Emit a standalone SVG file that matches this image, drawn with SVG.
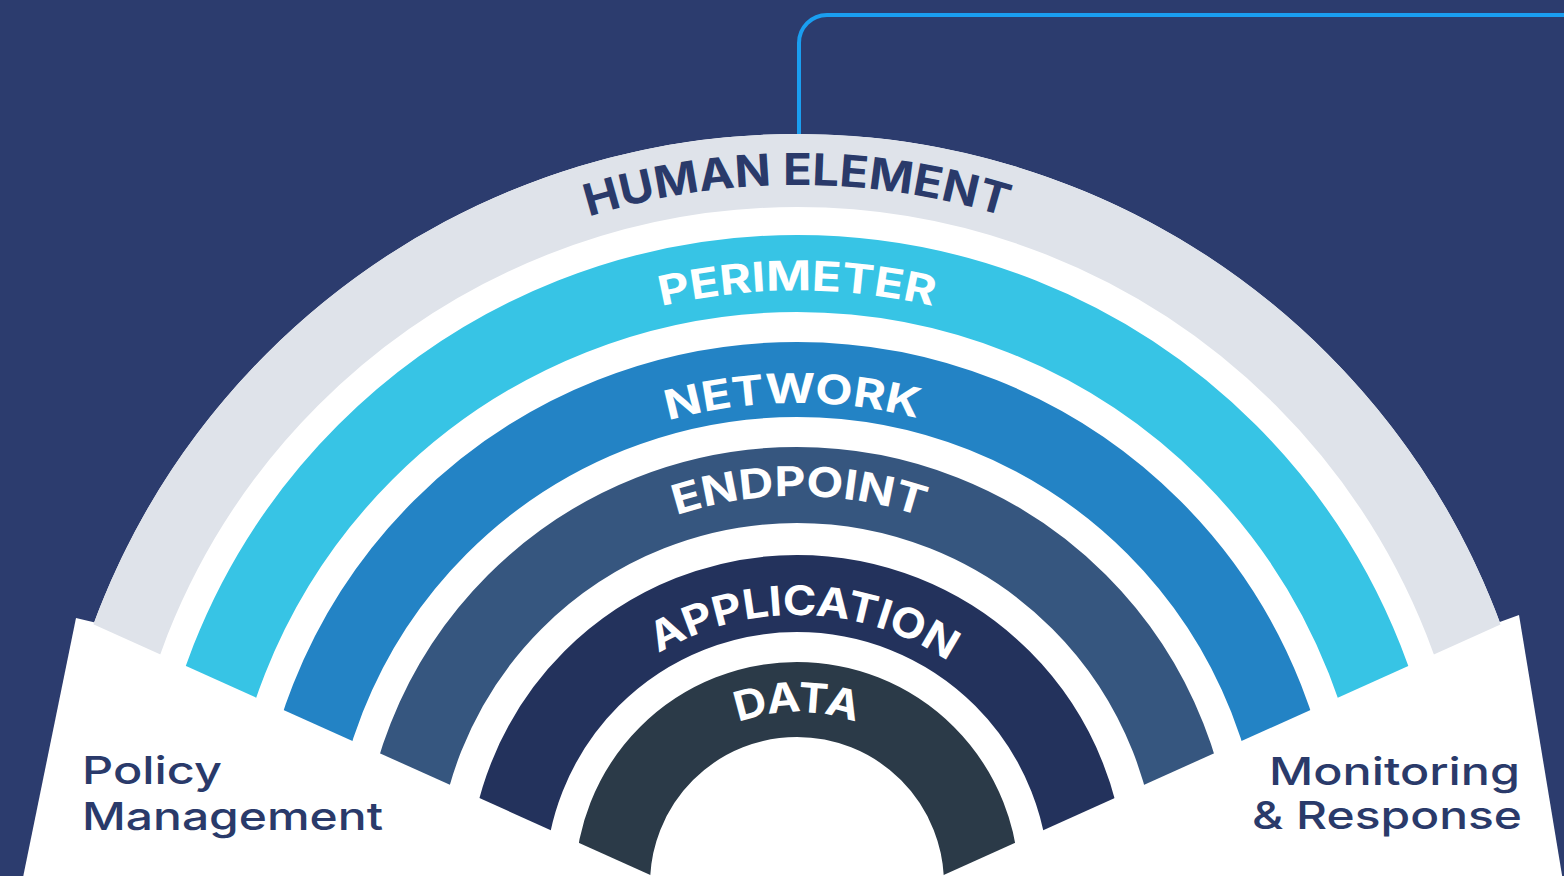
<svg xmlns="http://www.w3.org/2000/svg" xmlns:xlink="http://www.w3.org/1999/xlink" width="1564" height="876" viewBox="0 0 1564 876">
  <style>
    .band { fill: none; }
    .lbl { font-family: Inter, "Noto Sans", "Liberation Sans", sans-serif; font-weight: 700; font-size: 41px; fill: #ffffff; }
    .lbl-dark { fill: #2a3a6a; font-size: 44px; }
    .side { font-family: Inter, "Noto Sans", "Liberation Sans", sans-serif; font-weight: 500; font-size: 38.5px; fill: #2a3a6a; }
    .link { fill: none; stroke: #1a9ef0; stroke-width: 4; }
  </style>
  <defs>
    <!-- everything above the two slanted cut lines -->
    <clipPath id="fan">
      <polygon points="-200,492.35 797,941 1794,492.35 1794,-10 -200,-10"/>
    </clipPath>
    <!-- baseline arcs for the curved labels, centre (797,884) -->
    <path id="arc-human" d="M98,884 A699,699 0 0 1 1496,884"/>
    <path id="arc-perimeter" d="M203.5,884 A593.5,593.5 0 0 1 1390.5,884"/>
    <path id="arc-network" d="M316,884 A481,481 0 0 1 1278,884"/>
    <path id="arc-endpoint" d="M409,884 A388,388 0 0 1 1185,884"/>
    <path id="arc-application" d="M528,884 A269,269 0 0 1 1066,884"/>
    <path id="arc-data" d="M625,884 A172,172 0 0 1 969,884"/>
  </defs>

  <rect width="1564" height="876" fill="#2c3c6e"/>

  <g id="connectors">
    <path class="link" d="M799,140 V43 A28,28 0 0 1 827,15 H1570"/>
  </g>

  <!-- white backing: fan disc plus the two side panels -->
  <g id="backing" fill="#ffffff">
    <circle cx="797" cy="884" r="750" clip-path="url(#fan)"/>
    <polygon points="76,618 97,623 900,983 0,990"/>
    <polygon points="1519,615 1497,623 694,983 1581,990"/>
  </g>

  <g id="human-element">
    <circle class="band" cx="797" cy="884" r="713.5" stroke="#dfe3ea" stroke-width="73" clip-path="url(#fan)"/>
    <text class="lbl lbl-dark"><textPath xlink:href="#arc-human" href="#arc-human" startOffset="50%" text-anchor="middle" textLength="423" lengthAdjust="spacingAndGlyphs">HUMAN ELEMENT</textPath></text>
  </g>

  <g id="perimeter">
    <circle class="band" cx="797" cy="884" r="610.5" stroke="#37c4e5" stroke-width="77" clip-path="url(#fan)"/>
    <text class="lbl"><textPath xlink:href="#arc-perimeter" href="#arc-perimeter" startOffset="50%" text-anchor="middle" textLength="274" lengthAdjust="spacingAndGlyphs">PERIMETER</textPath></text>
  </g>

  <g id="network">
    <circle class="band" cx="797" cy="884" r="504.5" stroke="#2383c5" stroke-width="75" clip-path="url(#fan)"/>
    <text class="lbl"><textPath xlink:href="#arc-network" href="#arc-network" startOffset="49.7%" text-anchor="middle" textLength="252" lengthAdjust="spacingAndGlyphs">NETWORK</textPath></text>
  </g>

  <g id="endpoint">
    <circle class="band" cx="797" cy="884" r="399" stroke="#36567f" stroke-width="76" clip-path="url(#fan)"/>
    <text class="lbl"><textPath xlink:href="#arc-endpoint" href="#arc-endpoint" startOffset="50.2%" text-anchor="middle" textLength="250" lengthAdjust="spacingAndGlyphs">ENDPOINT</textPath></text>
  </g>

  <g id="application">
    <circle class="band" cx="797" cy="884" r="290.5" stroke="#23325c" stroke-width="77" clip-path="url(#fan)"/>
    <text class="lbl"><textPath xlink:href="#arc-application" href="#arc-application" startOffset="50.9%" text-anchor="middle" textLength="306" lengthAdjust="spacingAndGlyphs">APPLICATION</textPath></text>
  </g>

  <g id="data">
    <circle class="band" cx="797" cy="884" r="184.5" stroke="#2b3a48" stroke-width="75" clip-path="url(#fan)"/>
    <text class="lbl"><textPath xlink:href="#arc-data" href="#arc-data" startOffset="50%" text-anchor="middle" textLength="120" lengthAdjust="spacingAndGlyphs">DATA</textPath></text>
  </g>

  <g id="policy-management">
    <text class="side" x="82" y="784" textLength="140" lengthAdjust="spacingAndGlyphs">Policy</text>
    <text class="side" x="82" y="830" textLength="301" lengthAdjust="spacingAndGlyphs">Management</text>
  </g>

  <g id="monitoring-response">
    <text class="side" x="1269" y="785" textLength="251" lengthAdjust="spacingAndGlyphs">Monitoring</text>
    <text class="side" x="1252" y="829" textLength="270" lengthAdjust="spacingAndGlyphs">&amp; Response</text>
  </g>
</svg>
